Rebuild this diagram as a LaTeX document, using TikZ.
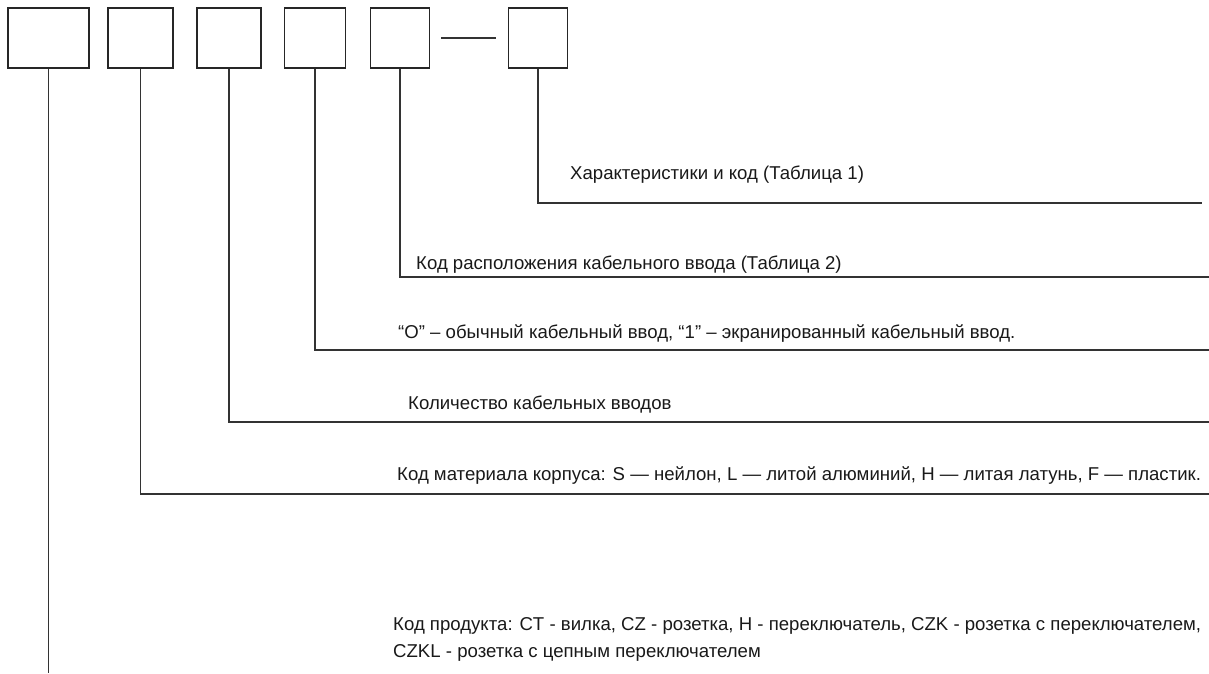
\documentclass[tikz,border=0pt]{standalone}
\usepackage{fontspec}
\setmainfont{Liberation Sans}
\usepackage{tikz}
\usetikzlibrary{positioning}

\tikzset{
    codebox/.style={draw=black!85, line width=1.3pt, minimum height=60pt, inner sep=0pt},
    lead/.style={black!80, line width=1.2pt},
    legend/.style={anchor=west, inner sep=0pt, font=\fontsize{18.6}{27}\selectfont, text=black!90}
}

\begin{document}
\begin{tikzpicture}[x=1pt,y=-1pt]
        \useasboundingbox (0,0) rectangle (1209,673);
        % code boxes
        \foreach \n/\x/\w in {1/48.5/81,2/140.5/65,3/229/64,4/315/61,5/400/59,6/538/59} {
            \node[codebox, minimum width=\w pt] (b\n) at (\x,38) {};
        }
        \draw[lead] ([xshift=11pt]b5.east) -- ([xshift=-12pt]b6.west);

        % descriptions
        \node[legend] (t6) at (570,175) {Характеристики и код (Таблица 1)};
        \node[legend] (t5) at (416,265) {Код расположения кабельного ввода (Таблица 2)};
        \node[legend] (t4) at (398,334) {“O” – обычный кабельный ввод, “1” – экранированный кабельный ввод.};
        \node[legend] (t3) at (408,405) {Количество кабельных вводов};
        \node[legend] (t2) at (397,476) {Код материала корпуса: S — нейлон, L — литой алюминий, H — литая латунь, F — пластик.};
        \node[legend, align=left] (t1) at (393,639.5) {Код продукта: CT - вилка, CZ - розетка, H - переключатель, CZK - розетка с переключателем,\\CZKL - розетка с цепным переключателем};

        % leaders
        \coordinate (e6) at (1202,203);
        \coordinate (e5) at (1209,277);
        \coordinate (e4) at (1209,350);
        \coordinate (e3) at (1209,422);
        \coordinate (e2) at (1209,494);
        \coordinate (e1) at (48.5,673);
        \foreach \n in {2,...,6} {
            \draw[lead] (b\n.south) |- (e\n);
        }
        \draw[lead] (b1.south) -- (e1);
    \end{tikzpicture}
\end{document}
